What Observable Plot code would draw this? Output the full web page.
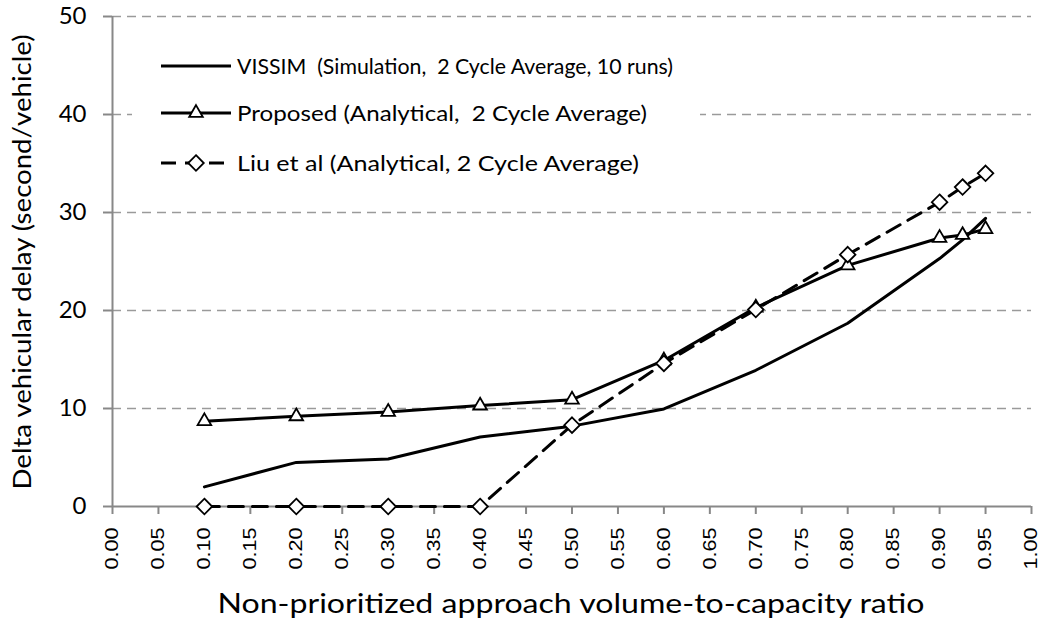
<!DOCTYPE html>
<html><head><meta charset="utf-8">
<script src="https://cdn.jsdelivr.net/npm/d3@7"></script>
<script src="https://cdn.jsdelivr.net/npm/@observablehq/plot@0.6"></script>
<style>body{margin:0;background:#fff}</style>
</head><body><div id="chart"></div>
<script>
// ---- data ----
const xValues  = [0.1, 0.2, 0.3, 0.4, 0.5, 0.6, 0.7, 0.8, 0.9, 0.925, 0.95];
const vissim   = [2.0, 4.5, 4.85, 7.1, 8.2, 9.95, 13.9, 18.7, 25.3, 27.2, 29.4];
const proposed = [8.7, 9.2, 9.65, 10.3, 10.9, 14.9, 20.3, 24.6, 27.4, 27.7, 28.3];
const liu      = [0, 0, 0, 0, 8.3, 14.6, 20.1, 25.7, 31.05, 32.6, 34.0];
const seriesNames = [
  "VISSIM  (Simulation,  2 Cycle Average, 10 runs)",
  "Proposed (Analytical,  2 Cycle Average)",
  "Liu et al (Analytical, 2 Cycle Average)"
];
const xTicks = d3.range(0, 21).map(i => +(i * 0.05).toFixed(2));
const yTicks = [0, 10, 20, 30, 40, 50];
const xTitle = "Non-prioritized approach volume-to-capacity ratio";
const yTitle = "Delta vehicular delay (second/vehicle)";

const rows = s => xValues.map((x, i) => ({x, y: s[i]}));
const dVissim = rows(vissim), dProp = rows(proposed), dLiu = rows(liu);

const chart = Plot.plot({
  width: 1047, height: 641,
  marginLeft: 112, marginRight: 16, marginTop: 16, marginBottom: 135,
  style: {fontFamily: "Lato, sans-serif", background: "white", color: "black"},
  x: {domain: [0, 1]},
  y: {domain: [0, 50]},
  marks: [
    Plot.gridY(yTicks.filter(d => d > 0), {stroke: "#9a9a9a", strokeOpacity: 1, strokeWidth: 1.6, strokeDasharray: "9,6"}),
    Plot.ruleX([0], {stroke: "#888", strokeWidth: 2}),
    Plot.ruleY([0], {stroke: "#888", strokeWidth: 2}),
    Plot.axisY({ticks: yTicks, tickSize: 9, tickPadding: 17, fontSize: 24, stroke: "#888", strokeWidth: 2, fill: "black", label: null}),
    Plot.axisX({ticks: xTicks, tickFormat: d3.format(".2f"), tickRotate: -90, tickSize: 8, tickPadding: 13,
                fontSize: 18, fontFamily: "Liberation Sans", stroke: "#888", strokeWidth: 2, fill: "black", label: null}),
    Plot.line(dVissim, {x: "x", y: "y", stroke: "black", strokeWidth: 3}),
    Plot.line(dProp, {x: "x", y: "y", stroke: "black", strokeWidth: 3}),
    Plot.dot(dProp, {x: "x", y: "y", symbol: "triangle2", r: 6.5, fill: "white", stroke: "black", strokeWidth: 1.8}),
    Plot.line(dLiu, {x: "x", y: "y", stroke: "black", strokeWidth: 3, strokeDasharray: "15,9"}),
    Plot.dot(dLiu, {x: "x", y: "y", symbol: "diamond2", r: 7, fill: "white", stroke: "black", strokeWidth: 1.8})
  ]
});
document.getElementById("chart").appendChild(chart);

const svg = d3.select(chart);
// stretch x tick labels along their length (as in the original rendering)
svg.selectAll('g[aria-label="x-axis tick label"] text').each(function() {
  const t = d3.select(this).attr("transform") || "";
  d3.select(this).attr("transform", t + " scale(1.2,1)");
});

// titles
svg.append("text").attr("x", 571).attr("y", 613).attr("text-anchor", "middle")
  .attr("font-family", "Lato, sans-serif").attr("font-size", 27).attr("fill", "black")
  .attr("textLength", 707).attr("lengthAdjust", "spacingAndGlyphs").text(xTitle);
svg.append("text").attr("transform", "translate(31,262) rotate(-90)").attr("text-anchor", "middle")
  .attr("font-family", "Lato, sans-serif").attr("font-size", 25.5).attr("fill", "black")
  .attr("textLength", 455).attr("lengthAdjust", "spacingAndGlyphs").text(yTitle);

// legend
const lg = svg.append("g");
lg.append("rect").attr("x", 132).attr("y", 40).attr("width", 568).attr("height", 150).attr("fill", "white");
const legY = [66, 113, 163];
const legLen = [436, 410, 402];
const sym = [null, d3.symbol(d3.symbolTriangle2, Math.PI * 6.5 * 6.5), d3.symbol(d3.symbolDiamond2, Math.PI * 7 * 7)];
seriesNames.forEach((name, i) => {
  const y = legY[i];
  const ln = lg.append("line").attr("x1", 161).attr("x2", 231).attr("y1", y).attr("y2", y)
    .attr("stroke", "black").attr("stroke-width", 3);
  if (i === 2) ln.attr("stroke-dasharray", "15,9").attr("stroke-dashoffset", 0);
  if (sym[i]) lg.append("path").attr("d", sym[i]()).attr("transform", `translate(196,${y})`)
    .attr("fill", "white").attr("stroke", "black").attr("stroke-width", 1.8);
  lg.append("text").attr("x", 237).attr("y", y).attr("dy", "0.35em").attr("text-anchor", "start")
    .attr("font-family", "Lato, sans-serif").attr("font-size", 22).attr("fill", "black")
    .attr("textLength", legLen[i]).attr("lengthAdjust", "spacingAndGlyphs").text(name);
});
</script>
</body></html>
